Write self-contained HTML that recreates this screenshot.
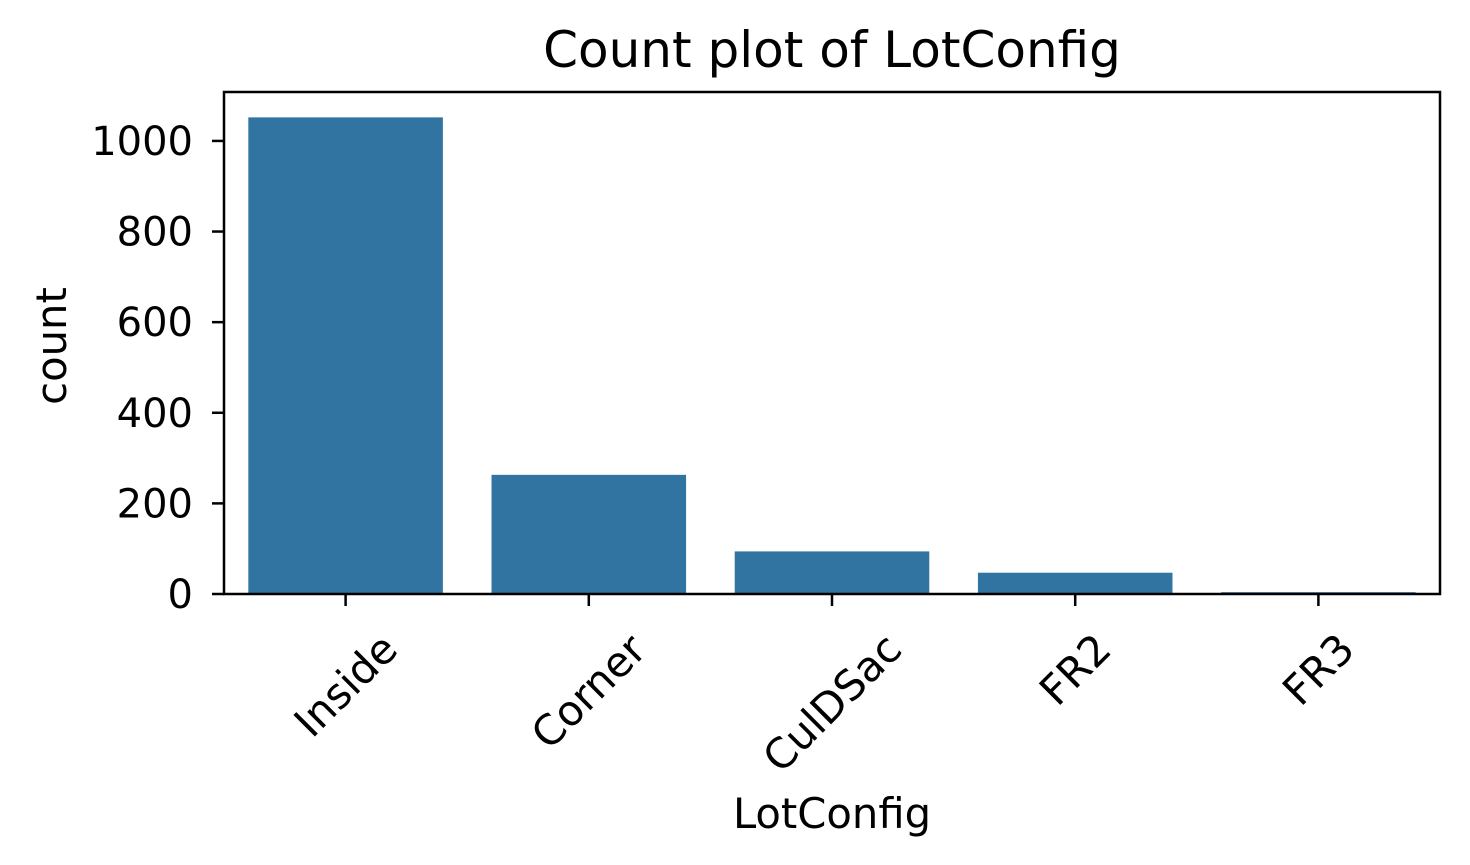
<!DOCTYPE html>
<html><head><meta charset="utf-8"><style>
html,body{margin:0;padding:0;background:#fff;}
svg{display:block;font-family:"DejaVu Sans","Liberation Sans",sans-serif;}
</style></head><body>
<svg id="chart" width="1470" height="865">
<text x="832" y="67" style="font-size:50px" text-anchor="middle">Count plot of LotConfig</text>
<text transform="translate(66,346) rotate(-90)" style="font-size:41.7px" text-anchor="middle">count</text>
<text x="832" y="828" style="font-size:41.7px" text-anchor="middle">LotConfig</text>
<g id="bars"></g><g id="axes"></g>
</svg>
<script>
const categories = ["Inside","Corner","CulDSac","FR2","FR3"];
const counts = [1052, 263, 94, 47, 4];
const yTicks = [0,200,400,600,800,1000];
const L=224,R=1440,T=92,B=594;
const yMax=1108;
function y(v){return B-(v/yMax)*(B-T);}
function xc(i){return L+(R-L)/categories.length*(i+0.5);}
const bw=(R-L)/categories.length*0.8;
const NS="http://www.w3.org/2000/svg";
const bars=document.getElementById('bars'),axes=document.getElementById('axes');
function mk(t,a,p){const e=document.createElementNS(NS,t);for(const k in a)e.setAttribute(k,a[k]);p.appendChild(e);return e;}
counts.forEach((v,i)=>{
  const r=mk('rect',{x:xc(i)-bw/2,y:y(v),width:bw,height:B-y(v),fill:'#3274a1'},bars);
  
  
});
const frame=mk('rect',{x:L,y:T,width:R-L,height:B-T,fill:'none',stroke:'#000','stroke-width':2.5},axes);


yTicks.forEach(t=>{
  const ln=mk('line',{x1:L-12,x2:L,y1:y(t),y2:y(t),stroke:'#000','stroke-width':2.5},axes);
  
  
  const tx=mk('text',{x:L-31,y:y(t)+14,style:'font-size:40px','text-anchor':'end'},axes);
  tx.textContent=t;
  
  
});
const svg=document.getElementById('chart');
categories.forEach((c,i)=>{
  const x=xc(i);
  const ln=mk('line',{x1:x,x2:x,y1:B,y2:B+12,stroke:'#000','stroke-width':2.5},axes);
  
  
  const tx=mk('text',{style:'font-size:41.7px','text-anchor':'middle',transform:`translate(${x},700) rotate(-45)`},axes);
  tx.textContent=c;
  
  
  const r=tx.getBoundingClientRect(), s=svg.getBoundingClientRect();
  const cx=(r.left+r.right)/2-s.left, top=r.top-s.top;
  tx.setAttribute('transform',`translate(${x+(x-cx)},${700+(624-top)}) rotate(-45)`);
});
</script>
</body></html>
